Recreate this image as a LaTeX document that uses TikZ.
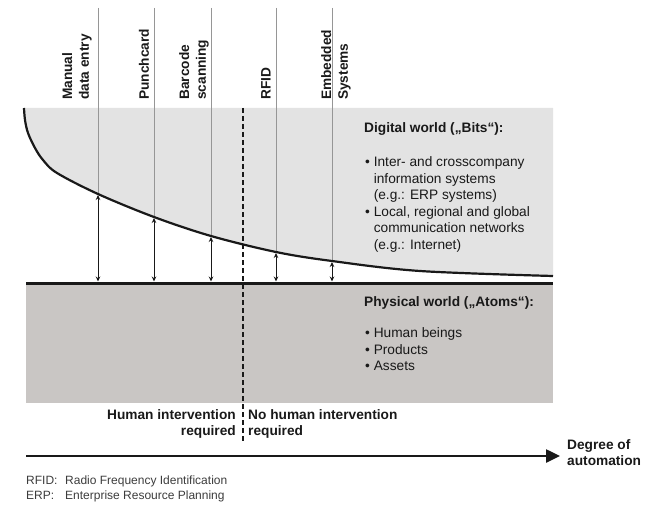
\documentclass[tikz,border=0pt]{standalone}
\usepackage{fontspec}
\setmainfont{Liberation Sans}
\usetikzlibrary{arrows.meta}
\definecolor{digi}{RGB}{227,227,227}
\definecolor{phys}{RGB}{201,198,196}
\definecolor{ink}{RGB}{25,25,25}
\definecolor{guidec}{RGB}{150,150,150}
\definecolor{legc}{RGB}{60,60,60}
\begin{document}
\begin{tikzpicture}[x=1pt,y=-1pt,
  boldtxt/.style={font=\bfseries\fontsize{13.7}{16.6}\selectfont, text=ink, inner sep=0pt},
  toplbl/.style={boldtxt, rotate=90, anchor=west, align=left},
  bodytxt/.style={font=\fontsize{13.7}{16.6}\selectfont, text=ink, inner sep=0pt, align=left},
  legtxt/.style={font=\fontsize{12}{14}\selectfont, text=legc, inner sep=0pt, anchor=base west},
  guideline/.style={draw=guidec, line width=0.8pt},
  gaparrow/.style={{Stealth[length=5pt,width=4.5pt]}-{Stealth[length=5pt,width=4.5pt]}, line width=0.9pt, draw=ink},
  splitline/.style={draw=ink, line width=1.8pt, dash pattern=on 5pt off 3pt},
  curveline/.style={draw=ink, line width=2.2pt},
  baseline/.style={draw=ink, line width=3pt},
  axisarrow/.style={draw=ink, line width=2.5pt, -{Triangle[length=14pt,width=13pt]}}
]
\useasboundingbox (0,0) rectangle (655,505);

% curve points
\coordinate (c0) at (24,108);
\coordinate (c1) at (98,194);
\coordinate (c2) at (154,217);
\coordinate (c3) at (211,236);
\coordinate (c4) at (276,252);
\coordinate (c5) at (332,261);
\coordinate (cend) at (553,276);

% digital world area (above the curve)
\fill[digi] (24,108) -- (553,108) -- (553,276) -- plot[smooth, tension=0.55] coordinates {(553,276) (420,271) (332,261) (276,252) (211,236) (154,217) (98,194) (57,173) (43,160) (35,148) (28,133) (25,120) (24,108)} -- cycle;

% physical world box
\fill[phys] (26,283) rectangle (553,403);

% top guide lines
\coordinate (t1) at (98,8);
\coordinate (t2) at (154,8);
\coordinate (t3) at (211,8);
\coordinate (t4) at (276,8);
\coordinate (t5) at (332,8);
\draw[guideline] (t1) -- (c1);
\draw[guideline] (t2) -- (c2);
\draw[guideline] (t3) -- (c3);
\draw[guideline] (t4) -- (c4);
\draw[guideline] (t5) -- (c5);

% dashed separator
\coordinate (d0) at (243,108);
\coordinate (d1) at (243,442);
\draw[splitline] (d0) -- (d1);

% curve
\draw[curveline] plot[smooth, tension=0.55] coordinates {(24,108) (25,120) (28,133) (35,148) (43,160) (57,173) (98,194) (154,217) (211,236) (276,252) (332,261) (420,271) (553,276)};

% base line
\coordinate (b0) at (26,283);
\coordinate (b1) at (553,283);
\draw[baseline] (b0) -- (b1);

% gap arrows
\coordinate (a1) at (98,281.5);
\coordinate (a2) at (154,281.5);
\coordinate (a3) at (211,281.5);
\coordinate (a4) at (276,281.5);
\coordinate (a5) at (332,281.5);
\draw[gaparrow] ([yshift=-1pt]c1) -- (a1);
\draw[gaparrow] ([yshift=-1pt]c2) -- (a2);
\draw[gaparrow] ([yshift=-1pt]c3) -- (a3);
\draw[gaparrow] ([yshift=-1pt]c4) -- (a4);
\draw[gaparrow] ([yshift=-1pt]c5) -- (a5);

% top labels
\node[toplbl] (l1) at (77,100) {Manual\\data entry};
\node[toplbl] (l2) at (144,100) {Punchcard};
\node[toplbl] (l3) at (194,100) {Barcode\\scanning};
\node[toplbl] (l4) at (266,100) {RFID};
\node[toplbl] (l5) at (336,100) {Embedded\\Systems};

% digital world text
\node[boldtxt, anchor=base west] (dt) at (364,132.5) {Digital world („Bits“):};
\node[bodytxt, anchor=base west] (dl) at (365,249.5) {• Inter- and crosscompany\\\phantom{• }information systems\\\phantom{• }(e.g.: ERP systems)\\• Local, regional and global\\\phantom{• }communication networks\\\phantom{• }(e.g.: Internet)};

% physical world text
\node[boldtxt, anchor=base west] (pt) at (364,306.5) {Physical world („Atoms“):};
\node[bodytxt, anchor=base west] (pl) at (365,370.7) {• Human beings\\• Products\\• Assets};

% intervention texts
\node[boldtxt, align=right, anchor=east] (hi) at (236,424) {Human intervention\\required};
\node[boldtxt, align=left, anchor=west] (nh) at (248,424) {No human intervention\\required};

% automation axis
\coordinate (x0) at (26,456);
\coordinate (x1) at (560,456);
\draw[axisarrow] (x0) -- (x1);
\node[boldtxt, align=left, anchor=west] (deg) at (567,452.5) {Degree of\\automation};

% legend
\node[legtxt] (k1) at (26,484) {RFID:};
\node[legtxt] (v1) at (65,484) {Radio Frequency Identification};
\node[legtxt] (k2) at (26,499) {ERP:};
\node[legtxt] (v2) at (65,499) {Enterprise Resource Planning};
\end{tikzpicture}
\end{document}
